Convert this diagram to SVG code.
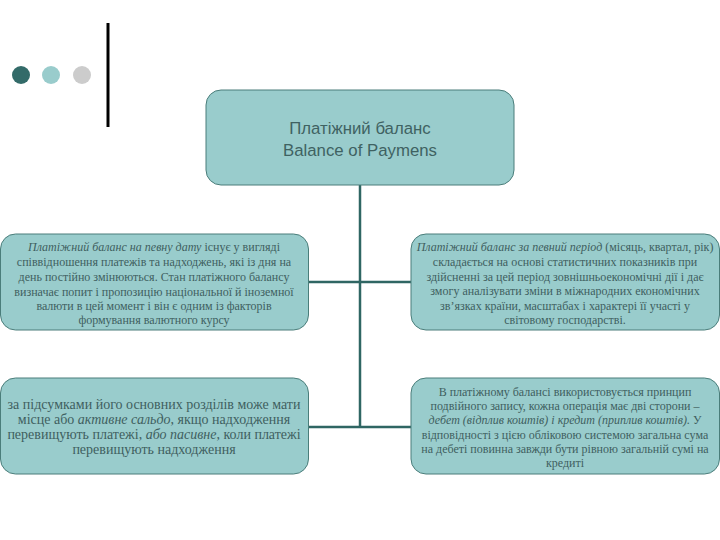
<svg xmlns="http://www.w3.org/2000/svg" width="720" height="540" viewBox="0 0 720 540">
<style>
.box{fill:#99cccc;stroke:#4a7d7a;stroke-width:1}
.t{font-family:"Liberation Serif","DejaVu Serif",serif;fill:#3f5f5f;text-anchor:middle}
.s{font-size:12px}
.b{font-size:14px}
.h{font-family:"Liberation Sans","DejaVu Sans",sans-serif;font-size:16.8px;fill:#3f6262;text-anchor:middle}
.c{stroke:#2f6663;stroke-width:2.5;fill:none}
</style>
<rect width="720" height="540" fill="#ffffff"/>
<g id="decor">
<circle cx="21" cy="75" r="9" fill="#336b69"/>
<circle cx="51" cy="75" r="9" fill="#99cccc"/>
<circle cx="82" cy="75" r="9" fill="#cccccc"/>
<line x1="108" y1="23" x2="108" y2="127" stroke="#000" stroke-width="3"/>
</g>
<g id="connectors">
<line class="c" x1="360" y1="185" x2="360" y2="428"/>
<line class="c" x1="308" y1="282" x2="411" y2="282"/>
<line class="c" x1="308" y1="427" x2="411" y2="427"/>
</g>
<g id="root">
<rect class="box" x="206" y="90" width="308" height="95" rx="15"/>
<text class="h" x="360" y="134">Платіжний баланс</text>
<text class="h" x="360" y="156">Balance of Paymens</text>
</g>
<g id="node-date">
<rect class="box" x="0.5" y="234" width="308" height="96" rx="15"/>
<text class="t s" x="154" y="251"><tspan font-style="italic">Платіжний баланс на певну дату</tspan> існує у вигляді</text>
<text class="t s" x="154" y="266">співвідношення платежів та надходжень, які із дня на</text>
<text class="t s" x="154" y="281">день постійно змінюються. Стан платіжного балансу</text>
<text class="t s" x="154" y="296">визначає попит і пропозицію національної й іноземної</text>
<text class="t s" x="154" y="310">валюти в цей момент і він є одним із факторів</text>
<text class="t s" x="154" y="324">формування валютного курсу</text>
</g>
<g id="node-period">
<rect class="box" x="411" y="234" width="308.5" height="96" rx="15"/>
<text class="t s" x="565" y="251"><tspan font-style="italic">Платіжний баланс за певний період</tspan> (місяць, квартал, рік)</text>
<text class="t s" x="565" y="266">складається на основі статистичних показників при</text>
<text class="t s" x="565" y="281">здійсненні за цей період зовнішньоекономічні дії і дає</text>
<text class="t s" x="565" y="295">змогу аналізувати зміни в міжнародних економічних</text>
<text class="t s" x="565" y="310">зв’язках країни, масштабах і характері її участі у</text>
<text class="t s" x="565" y="324">світовому господарстві.</text>
</g>
<g id="node-saldo">
<rect class="box" x="0.5" y="378" width="308" height="96" rx="15"/>
<text class="t b" x="154" y="409">за підсумками його основних розділів може мати</text>
<text class="t b" x="154" y="424">місце або <tspan font-style="italic">активне сальдо</tspan>, якщо надходження</text>
<text class="t b" x="154" y="439">перевищують платежі, <tspan font-style="italic">або пасивне</tspan>, коли платежі</text>
<text class="t b" x="154" y="454">перевищують надходження</text>
</g>
<g id="node-double">
<rect class="box" x="411" y="378" width="308.5" height="96" rx="15"/>
<text class="t s" x="565" y="396">В платіжному балансі використовується принцип</text>
<text class="t s" x="565" y="410">подвійного запису, кожна операція має дві сторони –</text>
<text class="t s" x="565" y="424" font-style="italic">дебет (відплив коштів) і кредит (приплив коштів). <tspan font-style="normal">У</tspan></text>
<text class="t s" x="565" y="439">відповідності з цією обліковою системою загальна сума</text>
<text class="t s" x="565" y="453">на дебеті повинна завжди бути рівною загальній сумі на</text>
<text class="t s" x="565" y="467">кредиті</text>
</g>
</svg>
